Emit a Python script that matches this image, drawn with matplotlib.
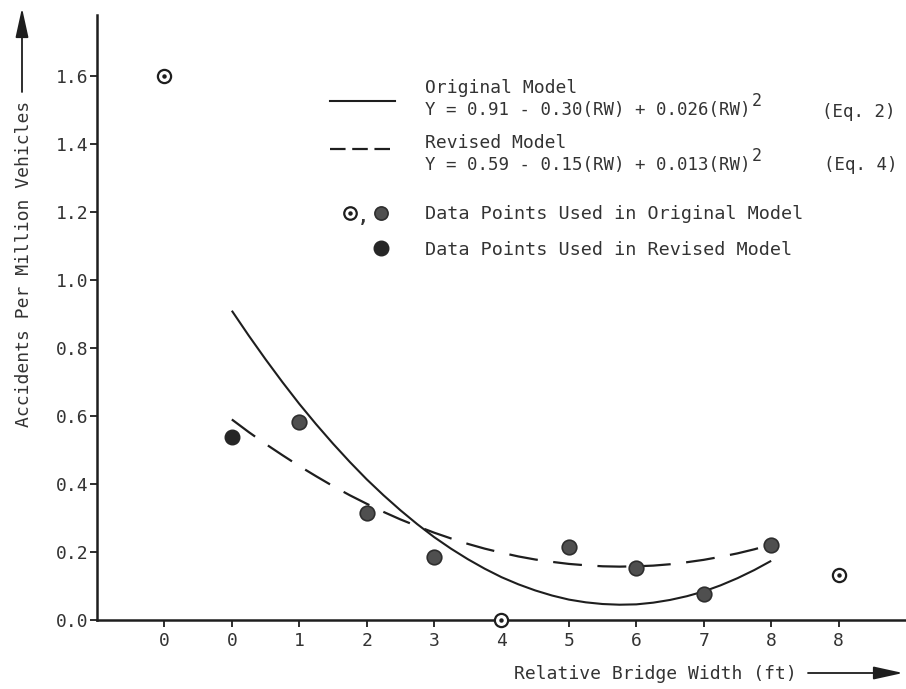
import matplotlib
matplotlib.use('Agg')
import matplotlib.pyplot as plt

# ---------------- data ----------------
tick_positions = [-1, 0, 1, 2, 3, 4, 5, 6, 7, 8, 9]
tick_labels = ['0', '0', '1', '2', '3', '4', '5', '6', '7', '8', '8']
y_ticks = [0.0, 0.2, 0.4, 0.6, 0.8, 1.0, 1.2, 1.4, 1.6]

# data points used only in original model (open circle with dot)
open_x = [-1, 4, 9]
open_y = [1.60, 0.00, 0.132]
# data points used in original (and revised) model (grey filled)
shared_x = [1, 2, 3, 5, 6, 7, 8]
shared_y = [0.583, 0.314, 0.186, 0.216, 0.152, 0.076, 0.221]
# data point used in revised model (black filled)
revised_x = [0]
revised_y = [0.537]

# fitted curves
curve_x = [0, 0.25, 0.5, 0.75, 1, 1.25, 1.5, 1.75, 2, 2.25, 2.5, 2.75, 3, 3.25,
           3.5, 3.75, 4, 4.25, 4.5, 4.75, 5, 5.25, 5.5, 5.75, 6, 6.25, 6.5, 6.75,
           7, 7.25, 7.5, 7.75, 8]
original_curve = [0.910, 0.837, 0.767, 0.700, 0.636, 0.576, 0.519, 0.465, 0.414,
                  0.367, 0.323, 0.282, 0.244, 0.210, 0.179, 0.151, 0.126, 0.105,
                  0.087, 0.072, 0.060, 0.052, 0.047, 0.045, 0.046, 0.051, 0.059,
                  0.070, 0.084, 0.102, 0.123, 0.147, 0.174]
revised_curve = [0.590, 0.553, 0.518, 0.485, 0.453, 0.423, 0.394, 0.367, 0.342,
                 0.318, 0.296, 0.276, 0.257, 0.240, 0.224, 0.210, 0.198, 0.187,
                 0.178, 0.171, 0.165, 0.161, 0.158, 0.157, 0.158, 0.160, 0.164,
                 0.170, 0.177, 0.186, 0.196, 0.208, 0.222]

# ---------------- style ----------------
plt.rcParams['font.family'] = ['DejaVu Sans Mono', 'DejaVu Sans']
plt.rcParams['font.size'] = 13
TXT = '#333333'
LINE = '#1e1e1e'
GREY_FACE = '#4f4f4f'
GREY_EDGE = '#2e2e2e'
BLACK_FACE = '#262626'

fig = plt.figure(figsize=(9.06, 6.89), dpi=100)
ax = fig.add_axes([97 / 906, 69 / 689, 809 / 906, 605 / 689])
ax.set_xlim(-2, 10)
ax.set_ylim(0, 1.78)

for s in ['top', 'right']:
    ax.spines[s].set_visible(False)
for s in ['left', 'bottom']:
    ax.spines[s].set_linewidth(1.8)
    ax.spines[s].set_color(LINE)

ax.set_xticks(tick_positions)
ax.set_xticklabels(tick_labels)
ax.set_yticks(y_ticks)
ax.set_yticklabels(['%.1f' % v for v in y_ticks])
ax.tick_params(axis='both', direction='out', length=5, width=1.3, color=LINE,
               labelcolor=TXT, labelsize=13)
ax.tick_params(axis='x', pad=4)
ax.tick_params(axis='y', pad=1)

# curves
ax.plot(curve_x, original_curve, color=LINE, lw=1.5, solid_capstyle='butt', zorder=2)
ax.plot(curve_x, revised_curve, color=LINE, lw=1.6, dashes=(13, 7),
        dash_capstyle='butt', zorder=2)

# data points
ax.plot(open_x, open_y, 'o', ms=9.5, mfc='white', mec=LINE, mew=1.6,
        clip_on=False, zorder=4)
ax.plot(open_x, open_y, 'o', ms=2.2, mfc=LINE, mec=LINE, clip_on=False, zorder=5)
ax.plot(shared_x, shared_y, 'o', ms=10.5, mfc=GREY_FACE, mec=GREY_EDGE, mew=1.2,
        zorder=4)
ax.plot(revised_x, revised_y, 'o', ms=10.5, mfc=BLACK_FACE, mec=BLACK_FACE, mew=1.0,
        zorder=4)

# ---------------- legend (hand-laid) ----------------
tr = ax.transAxes
ax.plot([0.288, 0.368], [0.858, 0.858], color=LINE, lw=1.5, transform=tr, clip_on=False)
ax.plot([0.288, 0.368], [0.778, 0.778], color=LINE, lw=1.6, dashes=(7, 3),
        transform=tr, clip_on=False)
tx = 0.405
EQ_FS = 12.5
ax.text(tx, 0.879, 'Original Model', transform=tr, va='center', color=TXT)
t1 = ax.text(tx, 0.843, 'Y = 0.91 - 0.30(RW) + 0.026(RW)', transform=tr,
             va='center', color=TXT, fontsize=EQ_FS)
ax.annotate('2', xy=(1, 0.5), xycoords=t1, xytext=(1.5, 0), textcoords='offset points',
            va='bottom', ha='left', color=TXT, fontsize=12)
ax.text(0.896, 0.840, '(Eq. 2)', transform=tr, va='center', color=TXT, fontsize=EQ_FS)

ax.text(tx, 0.788, 'Revised Model', transform=tr, va='center', color=TXT)
t2 = ax.text(tx, 0.752, 'Y = 0.59 - 0.15(RW) + 0.013(RW)', transform=tr,
             va='center', color=TXT, fontsize=EQ_FS)
ax.annotate('2', xy=(1, 0.5), xycoords=t2, xytext=(1.5, 0), textcoords='offset points',
            va='bottom', ha='left', color=TXT, fontsize=12)
ax.text(0.899, 0.752, '(Eq. 4)', transform=tr, va='center', color=TXT, fontsize=EQ_FS)

ax.plot([0.313], [0.673], 'o', ms=9, mfc='white', mec=LINE, mew=1.6, transform=tr,
        clip_on=False)
ax.plot([0.313], [0.673], 'o', ms=2.2, mfc=LINE, mec=LINE, transform=tr, clip_on=False)
ax.text(0.322, 0.665, ',', transform=tr, va='center', color=TXT, fontweight='bold')
ax.plot([0.351], [0.673], 'o', ms=9.5, mfc=GREY_FACE, mec=GREY_EDGE, mew=1.2,
        transform=tr, clip_on=False)
ax.text(tx, 0.671, 'Data Points Used in Original Model', transform=tr, va='center',
        color=TXT, fontsize=13.3)
ax.plot([0.351], [0.615], 'o', ms=10.5, mfc=BLACK_FACE, mec=BLACK_FACE, transform=tr,
        clip_on=False)
ax.text(tx, 0.611, 'Data Points Used in Revised Model', transform=tr, va='center',
        color=TXT, fontsize=13.3)

# ---------------- axis titles with arrows ----------------
fig.text(24 / 906, (689 - 264) / 689, 'Accidents Per Million Vehicles', rotation=90,
         ha='center', va='center', color=TXT, fontsize=13)
ax.annotate('', xy=(22, 681), xytext=(22, 597), xycoords='figure pixels',
            textcoords='figure pixels',
            arrowprops=dict(arrowstyle='-|>,head_length=1.0,head_width=0.22',
                            lw=1.3, color=LINE, mutation_scale=18,
                            shrinkA=0, shrinkB=0))
fig.text(514 / 906, (689 - 674) / 689, 'Relative Bridge Width (ft)', ha='left',
         va='center', color=TXT, fontsize=13)
ax.annotate('', xy=(903, 16), xytext=(808, 16), xycoords='figure pixels',
            textcoords='figure pixels',
            arrowprops=dict(arrowstyle='-|>,head_length=1.0,head_width=0.22',
                            lw=1.3, color=LINE, mutation_scale=18,
                            shrinkA=0, shrinkB=0))

fig.savefig('out.png', dpi=100)
